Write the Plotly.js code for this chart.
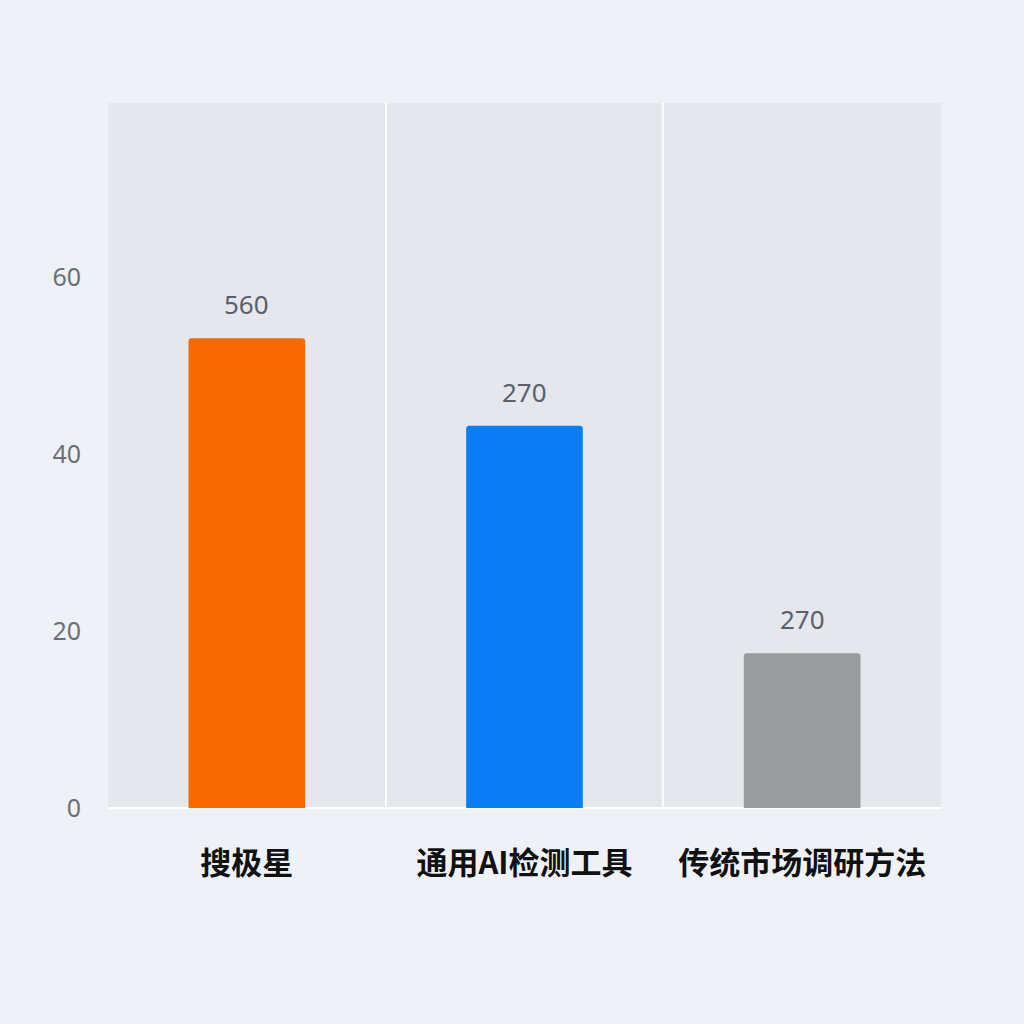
<!DOCTYPE html>
<html>
<head>
<meta charset="utf-8">
<script src="https://cdn.plot.ly/plotly-3.0.1.min.js"></script>
<style>
  html, body { margin: 0; padding: 0; background: #eef2f6; }
  #chart { width: 1024px; height: 1024px; }
</style>
</head>
<body>
<div id="chart"></div>
<script>
// categories and values
let categories = ['搜极星', '通用AI检测工具', '传统市场调研方法'];
let values = [53.1, 43.2, 17.5];
let barLabels = ['560', '270', '270'];
let barColors = ['#f76a00', '#0a7cf4', '#9b9c9e'];

let trace = {
  x: categories,
  y: values,
  type: 'bar',
  marker: { color: barColors, line: { width: 0 } },
  width: 0.42,
  hoverinfo: 'x+y'
};

// value labels above the bars
let labels = categories.map((c, i) => ({
  x: c,
  y: values[i],
  xref: 'x',
  yref: 'y',
  text: barLabels[i],
  showarrow: false,
  yanchor: 'bottom',
  yshift: 14,
  font: { family: 'Noto Sans, DejaVu Sans, sans-serif', size: 26, color: '#5b6069' }
}));

let layout = {
  width: 1024,
  height: 1024,
  margin: { l: 108, r: 83, t: 103, b: 216 },
  paper_bgcolor: '#eef2f6',
  plot_bgcolor: '#e4e7eb',
  showlegend: false,
  barcornerradius: 3,
  font: { family: 'Noto Sans, Noto Sans CJK SC, sans-serif' },
  annotations: labels,
  xaxis: {
    type: 'category',
    tickson: 'boundaries',
    showgrid: true,
    gridcolor: '#ffffff',
    gridwidth: 2,
    ticks: '',
    ticklabelstandoff: 34,
    tickfont: { family: 'Noto Sans CJK SC, sans-serif', size: 31, color: '#111111', weight: 'bold' },
    showline: false,
    zeroline: false
  },
  yaxis: {
    range: [0, 79.7],
    tickvals: [0, 20, 40, 60],
    showgrid: false,
    zeroline: true,
    zerolinecolor: '#ffffff',
    zerolinewidth: 2,
    ticks: '',
    ticklabelstandoff: 26,
    tickfont: { family: 'Noto Sans, DejaVu Sans, sans-serif', size: 25, color: '#6b7079' },
    showline: false
  }
};

Plotly.newPlot('chart', [trace], layout, { displayModeBar: false, staticPlot: true });
</script>
</body>
</html>
